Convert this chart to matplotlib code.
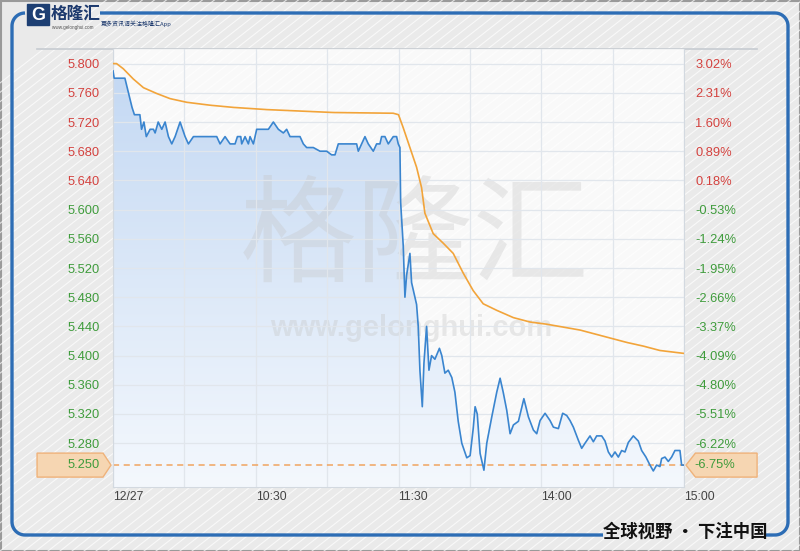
import numpy as np
import matplotlib
matplotlib.use('Agg')
import matplotlib.pyplot as plt
from matplotlib.patches import Polygon, Rectangle
from matplotlib.colors import LinearSegmentedColormap
from matplotlib.transforms import blended_transform_factory

plt.rcParams['font.family'] = ['Liberation Sans', 'Noto Sans CJK SC', 'DejaVu Sans']

# 昨收 / 最新价
prev_close = 5.63
last_price = 5.25

# 分时价格 (x = 交易分钟, 0 = 9:30, 120 = 11:30/13:00, 240 = 15:00)
price_t = [0, 0.5, 5, 6.5, 8, 9, 11.3, 12, 13, 14, 15.6, 17, 17.7, 19, 20.5, 21.9, 23.3, 24.7,
           26.1, 28.2, 30.3, 31.7, 33.8, 43.6, 45.0, 47.1, 49.2, 51.3, 52.3, 53.7, 54.1, 55.5,
           56.9, 57.6, 59.0, 60.4, 63.2, 65.3, 67.4, 69.5, 71.6, 73.0, 74.4, 78.6, 80.0, 81.4,
           84.2, 87.0, 89.8, 91.9, 93.3, 94.7, 96.1, 102.4, 103.1, 104.5, 105.9, 107.3, 109.4,
           110.8, 112.2, 112.9, 114.3, 115.7, 117.8, 119.2, 119.9,
           120.6, 120.9, 122.0, 122.7, 123.4, 124.8, 125.5, 126.2, 127.6, 128.3, 129.0, 130.0,
           130.7, 131.8, 132.8, 133.9, 135.3, 137.2, 138.2, 139.5, 140.9, 142.4, 143.7, 145.1,
           146.6, 148.7, 150.1, 151.4, 152.2, 153.1, 154.3, 155.9, 157.1, 159.2, 161.3, 162.7,
           164.0, 165.5, 166.9, 168.3, 170.4, 172.7, 174.6, 176.7, 178.1, 179.5, 181.6, 183.7,
           185.1, 187.2, 189.0, 190.7, 192.1, 193.5, 195.6, 197.0, 198.4, 200.5, 201.9, 203.3,
           205.4, 206.8, 208.2, 209.6, 211.0, 212.4, 213.8, 215.2, 216.6, 218.7, 220.8, 222.2,
           224.0, 225.7, 227.1, 228.5, 229.9, 230.6, 232.0, 233.4, 234.8, 236.2, 238.3, 239.0, 240]
price_v = [5.79, 5.78, 5.78, 5.76, 5.74, 5.73, 5.73, 5.71, 5.72, 5.70, 5.71, 5.71, 5.705, 5.72,
           5.71, 5.72, 5.70, 5.69, 5.70, 5.72, 5.70, 5.69, 5.70, 5.70, 5.69, 5.70, 5.69, 5.69,
           5.70, 5.70, 5.69, 5.70, 5.69, 5.70, 5.69, 5.71, 5.71, 5.71, 5.72, 5.71, 5.705, 5.71,
           5.70, 5.70, 5.69, 5.685, 5.685, 5.68, 5.68, 5.675, 5.675, 5.69, 5.69, 5.69, 5.68,
           5.69, 5.70, 5.69, 5.68, 5.69, 5.69, 5.70, 5.70, 5.69, 5.70, 5.70, 5.69,
           5.685, 5.61, 5.55, 5.48, 5.51, 5.54, 5.50, 5.49, 5.47, 5.44, 5.38, 5.33,
           5.39, 5.44, 5.38, 5.40, 5.395, 5.41, 5.40, 5.376, 5.38, 5.37, 5.35, 5.31,
           5.28, 5.26, 5.263, 5.30, 5.33, 5.32, 5.266, 5.243, 5.28, 5.316, 5.35, 5.369,
           5.35, 5.325, 5.293, 5.305, 5.31, 5.341, 5.316, 5.298, 5.293, 5.311, 5.321, 5.311,
           5.302, 5.30, 5.321, 5.318, 5.311, 5.302, 5.284, 5.273, 5.28, 5.29, 5.282, 5.29,
           5.29, 5.283, 5.268, 5.261, 5.268, 5.261, 5.27, 5.268, 5.281, 5.29, 5.283, 5.27,
           5.261, 5.25, 5.242, 5.25, 5.248, 5.259, 5.261, 5.255, 5.261, 5.27, 5.27, 5.25, 5.25]

# 均价线
avg_t = [0, 1.5, 4.3, 8.5, 12.8, 18.4, 24, 31, 40.8, 50.6, 64.6, 78.6, 92.6, 117.8, 120,
         122, 124.8, 127.6, 129.7, 131.1, 134.6, 138.8, 143, 147.2, 151.4, 155.6, 161.3,
         168.3, 175.3, 182.3, 189.3, 196.3, 216, 222.9, 229.9, 240]
avg_v = [5.800, 5.800, 5.793, 5.779, 5.767, 5.759, 5.752, 5.747, 5.743, 5.740, 5.737, 5.735,
         5.733, 5.732, 5.730, 5.712, 5.685, 5.658, 5.630, 5.595, 5.567, 5.554, 5.540, 5.513,
         5.489, 5.471, 5.462, 5.452, 5.446, 5.443, 5.439, 5.435, 5.418, 5.413, 5.407, 5.403]

y_ticks = [5.800, 5.760, 5.720, 5.680, 5.640, 5.600, 5.560, 5.520, 5.480, 5.440, 5.400,
           5.360, 5.320, 5.280]
x_ticks = [0, 60, 120, 180, 240]
x_labels = ['12/27', '10:30', '11:30', '14:00', '15:00']

RED = '#d4423f'
GREEN = '#3f9c3c'
BLUE = '#3a85cf'
ORANGE = '#f2a43a'

fig = plt.figure(figsize=(8, 5.51), dpi=100)
fig.patch.set_facecolor('#eaeaea')

# ---- 背景 (像素坐标) ----
bg = fig.add_axes([0, 0, 1, 1], zorder=-10)
bg.set_xlim(0, 800)
bg.set_ylim(551, 0)
bg.axis('off')
for c in np.arange(-600, 1400, 12):
    bg.plot([c, c + 800], [551, 551 - 800 * 0.78], color='white', lw=0.8, alpha=0.7)

# 外框
def arc(cx, cy, r, a0, a1):
    a = np.radians(np.linspace(a0, a1, 15))
    return list(cx + r * np.cos(a)), list(cy + r * np.sin(a))

x1, y1 = arc(25, 26, 13, 270, 180)
x2, y2 = arc(25, 522, 13, 180, 90)
bg.plot(x1 + x2 + [603], y1 + y2 + [535], color='#2d6db5', lw=2.4, solid_capstyle='butt')
x3, y3 = arc(775, 522, 13, 90, 0)
x4, y4 = arc(775, 26, 13, 0, -90)
bg.plot([766] + x3 + x4 + [100], [535] + y3 + y4 + [13], color='#2d6db5', lw=2.4,
        solid_capstyle='butt')
bg.add_patch(Rectangle((0.5, 0.5), 799, 550, fill=False, ec='#9a9a9a', lw=1.5))

# 顶部分隔线
bg.plot([37, 757], [49, 49], color='#c6cbd1', lw=1.2)

# logo
bg.add_patch(Rectangle((27, 4), 22, 21, color='#1d3f73'))
bg.text(38, 15, 'G', color='white', fontsize=13, fontweight='bold', ha='center', va='center')
bg.text(51, 14, '格隆汇', family=['Noto Sans CJK SC'], fontsize=12, fontweight='bold',
        color='#1d3a6e', va='center', ha='left')
bg.text(52, 27.5, 'www.gelonghui.com', fontsize=3.3, color='#555', va='center', ha='left')
bg.text(101, 24, '更多资讯请关注格隆汇App', family=['Noto Sans CJK SC', 'DejaVu Sans'],
        fontsize=4.3, color='#1d3a6e', va='center', ha='left')

bg.text(685, 532, '全球视野 · 下注中国', family=['Noto Sans CJK SC', 'DejaVu Sans'],
        fontsize=12.5, fontweight='bold', color='#111', ha='center', va='center')

# ---- 主图 ----
ax = fig.add_axes([113 / 800, 1 - 487 / 551, 571 / 800, 438 / 551])
ax.set_facecolor((1, 1, 1, 0.75))
ymin, ymax = 5.22, 5.82

# 渐变填充
cmap = LinearSegmentedColormap.from_list('fill', ['#f4f8fd', '#c3d8f3'])
grad = np.linspace(1, 0, 256).reshape(-1, 1)
im = ax.imshow(grad, extent=[0, 240, ymin, 5.80], aspect='auto', cmap=cmap, zorder=1)
poly = Polygon(np.column_stack([[price_t[0]] + price_t + [price_t[-1]],
                                [ymin] + price_v + [ymin]]),
               closed=True, facecolor='none', edgecolor='none', transform=ax.transData)
ax.add_patch(poly)
im.set_clip_path(poly)

ax.text(0.528, 0.565, '格隆汇', family=['Noto Sans CJK SC'], fontsize=84, color='#c4c4c4',
        alpha=0.33, ha='center', va='center', transform=ax.transAxes, zorder=1.5)
ax.text(0.522, 0.363, 'www.gelonghui.com', fontsize=21, fontweight='bold', color='#c4c4c4',
        alpha=0.35, ha='center', va='center', transform=ax.transAxes, zorder=1.5)

ax.plot(price_t, price_v, color=BLUE, lw=1.2, zorder=3)
ax.plot(avg_t, avg_v, color=ORANGE, lw=1.2, zorder=3)
ax.axhline(last_price, color='#f0a460', lw=1.1, ls=(0, (4, 3)), zorder=2.5)

ax.set_xlim(0, 240)
ax.set_ylim(ymin, ymax)
ax.set_xticks(x_ticks)
ax.set_xticks(range(30, 240, 60), minor=True)
ax.set_xticklabels(x_labels, fontsize=8.8, color='#444')
for lbl in ax.get_xticklabels():
    lbl.set_ha('left')
ax.set_yticks(y_ticks)
ax.set_yticklabels(['%.3f' % v for v in y_ticks], fontsize=9.3)
for lbl, v in zip(ax.get_yticklabels(), y_ticks):
    lbl.set_color(RED if v > prev_close else GREEN)
ax.tick_params(axis='both', which='both', length=0)
ax.tick_params(axis='y', pad=9.5)
ax.tick_params(axis='x', pad=3)
ax.grid(True, which='both', color='#e1e6ec', lw=0.9)
for s in ax.spines.values():
    s.set_color('#d3d9e0')
ax.spines['top'].set_visible(False)

ax2 = ax.twinx()
ax2.set_ylim(ymin, ymax)
ax2.set_yticks(y_ticks)
ax2.set_yticklabels(['%.2f%%' % ((v / prev_close - 1) * 100) for v in y_ticks], fontsize=9.3)
for lbl, v in zip(ax2.get_yticklabels(), y_ticks):
    lbl.set_color(RED if v > prev_close else GREEN)
ax2.tick_params(axis='y', length=0, pad=8)
for s in ax2.spines.values():
    s.set_visible(False)

# 最新价标签
tr = blended_transform_factory(ax.transAxes, ax.transData)
h = 12 * (ymax - ymin) / 438
ax.add_patch(Polygon([(-0.133, last_price - h), (-0.0175, last_price - h), (-0.0035, last_price),
                      (-0.0175, last_price + h), (-0.133, last_price + h)], closed=True,
                     transform=tr, clip_on=False, fc='#f6d6b2', ec='#efb27a', lw=1, zorder=5))
ax.text(-0.0228, last_price, '%.3f' % last_price, transform=tr, ha='right', va='center',
        fontsize=9.3, color=GREEN, zorder=6)
ax.add_patch(Polygon([(1.0035, last_price), (1.02, last_price - h), (1.128, last_price - h),
                      (1.128, last_price + h), (1.02, last_price + h)], closed=True,
                     transform=tr, clip_on=False, fc='#f6d6b2', ec='#efb27a', lw=1, zorder=5))
ax.text(1.019, last_price, '%.2f%%' % ((last_price / prev_close - 1) * 100), transform=tr,
        ha='left', va='center', fontsize=9.3, color=GREEN, zorder=6)

fig.savefig('out.png', dpi=100, facecolor=fig.get_facecolor())
